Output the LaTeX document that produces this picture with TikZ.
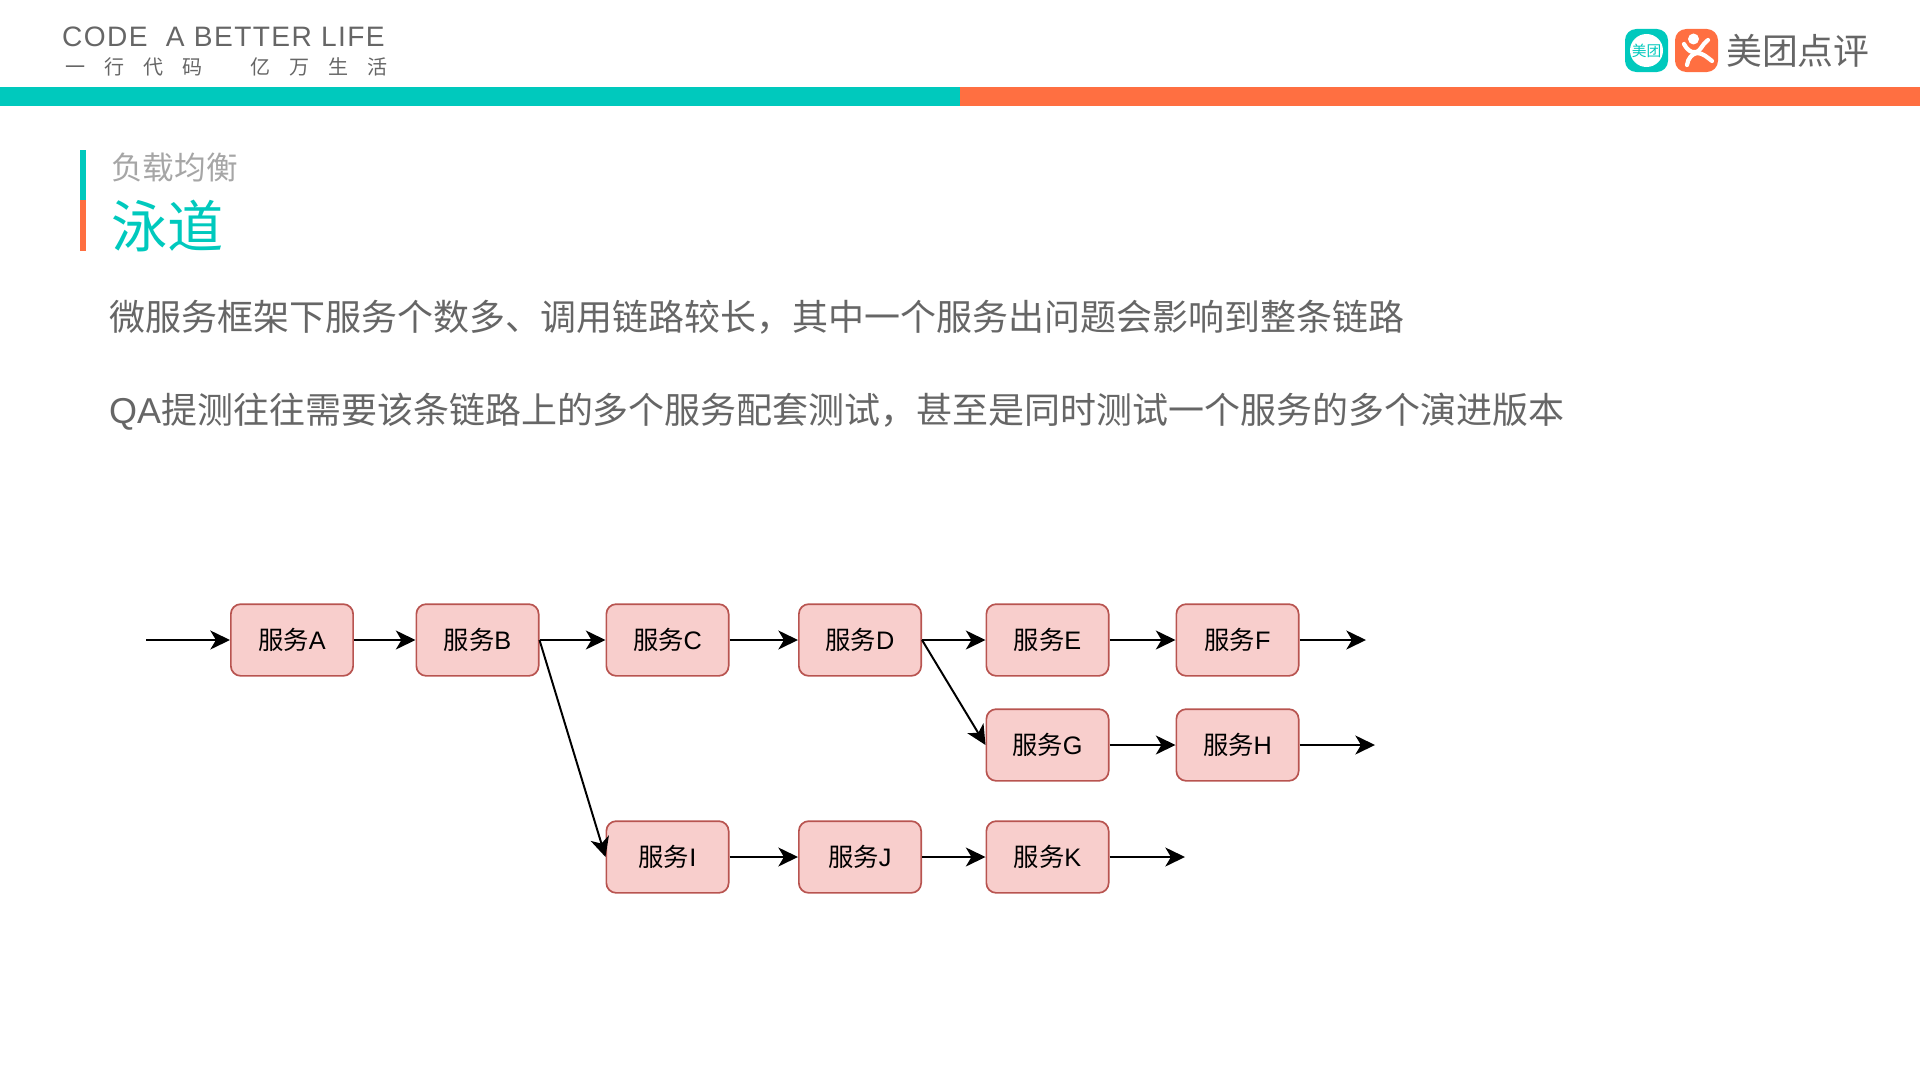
\documentclass[tikz,border=0pt]{standalone}
\usepackage{fontspec}
\usepackage{xcolor}
\usetikzlibrary{arrows.meta}
\setmainfont{Liberation Sans}
\newfontfamily\cjk{Noto Sans CJK SC}
\newfontfamily\cjkwide[LetterSpace=95]{Noto Sans CJK SC}
\newfontfamily\headfont[LetterSpace=5]{Liberation Sans}
\definecolor{Tealcol}{HTML}{00C9BD}
\definecolor{Orangecol}{HTML}{FF6F41}
\definecolor{Boxcol}{HTML}{F8CECC}
\definecolor{Edgecol}{HTML}{B85450}
\colorlet{Greycol}{black!60}
\colorlet{Lightcol}{black!35}
\tikzset{>={Stealth[length=28pt,width=27pt,inset=8pt]}}
\tikzset{
  service/.style={draw=Edgecol, fill=Boxcol, line width=2.4pt, rounded corners=14pt,
    minimum width=174pt, minimum height=102pt, inner sep=0pt, font=\fontsize{36}{42}\selectfont},
  link/.style={->, line width=2.8pt, black},
  textline/.style={anchor=west, inner sep=0pt, text=Greycol, font=\fontsize{51.2}{60}\selectfont},
}

\begin{document}
\begin{tikzpicture}[x=0.05cm, y=-0.05cm]
    \useasboundingbox (0, 0) rectangle (1920, 1080);

    % header bars
    \fill [Tealcol] (0, 87) rectangle (960, 106);
    \fill [Orangecol] (960, 87) rectangle (1920, 106);
    \fill [Tealcol] (80, 150) rectangle (86, 200);
    \fill [Orangecol] (80, 200) rectangle (86, 251);

    \node [textline, font=\fontsize{40}{46}\selectfont\headfont] (slogan) at (62, 37) {CODE\ \ A\ BETTER\ LIFE};
    \node [textline, font=\fontsize{28.5}{34}\selectfont\cjkwide] (slogancn) at (65, 67) {一行代码\hspace{68pt}亿万生活};

    % logos
    \fill [Tealcol, rounded corners=16pt] (1625, 29) rectangle (1668, 72);
    \fill [white] (1646.5, 50.5) circle (16.5);
    \node [inner sep=0pt, text=Tealcol, font=\fontsize{21}{26}\selectfont\cjk] (mtlogo) at (1646.5, 50.5) {美团};
    \fill [Orangecol, rounded corners=16pt] (1675, 29) rectangle (1718, 72);
    \fill [white] (1693.5, 39) circle (5.5);
    \draw [white, line width=6pt, line cap=round] (1684, 44) .. controls (1688, 52) and (1696, 56) .. (1701, 48)
        .. controls (1703, 45) and (1705, 42) .. (1708, 40);
    \draw [white, line width=6pt, line cap=round] (1687, 65) .. controls (1688, 58) and (1692, 54) .. (1697, 53)
        .. controls (1703, 53) and (1708, 58) .. (1712, 61);
    \node [textline, font=\fontsize{51}{60}\selectfont\cjk] (brand) at (1726, 51) {美团点评};

    % titles
    \node [textline, text=Lightcol, font=\fontsize{45}{54}\selectfont\cjk] (section) at (111, 167) {负载均衡};
    \node [textline, text=Tealcol, font=\fontsize{80}{90}\selectfont\cjk] (title) at (111, 226) {泳道};
    \node [textline, font=\fontsize{51.2}{60}\selectfont\cjk] (lineone) at (109, 317.5)
        {微服务框架下服务个数多、调用链路较长，其中一个服务出问题会影响到整条链路};
    \node [textline] (linetwo) at (109, 411.5)
        {QA{\cjk 提测往往需要该条链路上的多个服务配套测试，甚至是同时测试一个服务的多个演进版本}};

    % services
    \foreach \name/\x/\y in {A/292/640, B/477.5/640, C/667.5/640, D/860/640, E/1047.5/640, F/1237.5/640,
                             G/1047.5/745, H/1237.5/745, I/667.5/857, J/860/857, K/1047.5/857}
        \node [service] (\name) at (\x, \y) {{\cjk 服务}\name};

    \coordinate (in) at (146, 640);
    \coordinate (outF) at (1366, 640);
    \coordinate (outH) at (1375, 745);
    \coordinate (outK) at (1185, 857);

    \draw [link] (in) -- (A);
    \draw [link] (A) -- (B);
    \draw [link] (B) -- (C);
    \draw [link] (C) -- (D);
    \draw [link] (D) -- (E);
    \draw [link] (E) -- (F);
    \draw [link] (F) -- (outF);
    \draw [link] (D.east) -- (G.west);
    \draw [link] (G) -- (H);
    \draw [link] (H) -- (outH);
    \draw [link] (B.east) -- (I.west);
    \draw [link] (I) -- (J);
    \draw [link] (J) -- (K);
    \draw [link] (K) -- (outK);
\end{tikzpicture}
\end{document}
